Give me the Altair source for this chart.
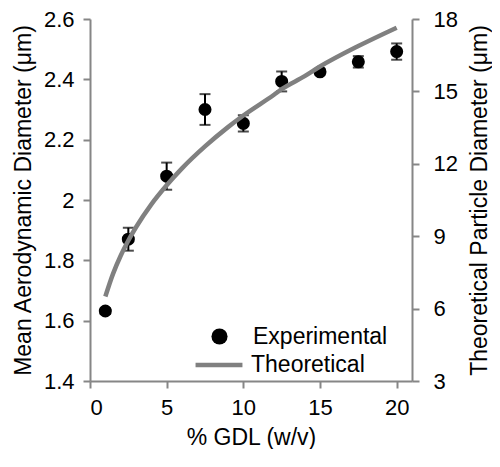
import altair as alt
import pandas as pd

# Experimental data (mean aerodynamic diameter, um) with error bars
gdl = [1, 2.5, 5, 7.5, 10, 12.5, 15, 17.5, 20]
mad = [1.632, 1.870, 2.079, 2.300, 2.254, 2.393, 2.425, 2.458, 2.492]
err = [0.010, 0.038, 0.045, 0.051, 0.027, 0.033, 0.010, 0.019, 0.027]

# Theoretical curve (particle diameter, um) read at sample points
theo_x = [1, 1.5, 2, 2.5, 3, 4, 5, 6, 7.5, 9, 10, 12, 12.5, 14, 15, 17.5, 20]
theo_y = [6.50, 7.44, 8.19, 8.82, 9.37, 10.32, 11.11, 11.81, 12.72, 13.52,
          14.00, 14.86, 15.09, 15.63, 16.03, 16.88, 17.64]

left_ticks = [1.4, 1.6, 1.8, 2.0, 2.2, 2.4, 2.6]
right_ticks = [3, 6, 9, 12, 15, 18]
x_ticks = [0, 5, 10, 15, 20]

exp_df = pd.DataFrame({"x": gdl, "y": mad, "err": err})
exp_df["lo"] = exp_df["y"] - exp_df["err"]
exp_df["hi"] = exp_df["y"] + exp_df["err"]
exp_df["series"] = "Experimental"
theo_df = pd.DataFrame({"x": theo_x, "y": theo_y, "series": "Theoretical"})

FONT = "Liberation Sans"
AX = "#868686"
W, H = 322, 362
LEG_FS = 23

xscale = alt.Scale(domain=[0, 21], nice=False, zero=False)
xaxis = alt.Axis(values=x_ticks, title="% GDL (w/v)", grid=False)
lscale = alt.Scale(domain=[1.4, 2.6], nice=False, zero=False)

base = alt.Chart(exp_df)
bars = base.mark_rule(color="black", strokeWidth=2).encode(
    x=alt.X("x:Q", scale=xscale, axis=xaxis),
    y=alt.Y("lo:Q", scale=lscale,
            axis=alt.Axis(values=left_ticks, format="~g", grid=False,
                          title="Mean Aerodynamic Diameter (μm)")),
    y2="hi:Q",
)
cap_lo = base.mark_tick(color="black", thickness=2, size=11, orient="horizontal").encode(
    x=alt.X("x:Q", scale=xscale), y=alt.Y("lo:Q", scale=lscale))
cap_hi = base.mark_tick(color="black", thickness=2, size=11, orient="horizontal").encode(
    x=alt.X("x:Q", scale=xscale), y=alt.Y("hi:Q", scale=lscale))
pts = base.mark_point(filled=True, size=170, opacity=1, shape="circle").encode(
    x=alt.X("x:Q", scale=xscale),
    y=alt.Y("y:Q", scale=lscale),
    color=alt.Color("series:N",
                    scale=alt.Scale(domain=["Experimental"], range=["black"]),
                    legend=alt.Legend(title=None, orient="none", legendX=118, legendY=306,
                                      labelFontSize=LEG_FS, labelFont=FONT, labelColor="black",
                                      symbolSize=260, symbolOpacity=1, labelOffset=22,
                                      symbolStrokeWidth=0)),
)

left = alt.layer(bars, cap_lo, cap_hi, pts)

line = alt.Chart(theo_df).mark_line(strokeWidth=4.5, interpolate="monotone").encode(
    x=alt.X("x:Q", scale=xscale),
    y=alt.Y("y:Q", scale=alt.Scale(domain=[3, 18], nice=False, zero=False),
            axis=alt.Axis(orient="right", values=right_ticks, grid=False,
                          title="Theoretical Particle Diameter (μm)", titleAngle=270,
                          titleBaseline="top", labelPadding=14, titlePadding=11)),
    stroke=alt.Stroke("series:N",
                      scale=alt.Scale(domain=["Theoretical"], range=["#808080"]),
                      legend=alt.Legend(title=None, orient="none", legendX=103, legendY=320,
                                        labelFontSize=LEG_FS, labelFont=FONT, labelColor="black",
                                        symbolSize=2200, symbolStrokeWidth=4.5,
                                        labelOffset=6)),
)

chart = alt.layer(left, line).resolve_scale(y="independent").properties(
    width=W, height=H, padding={"left": 4, "top": 0, "right": 0, "bottom": 0}
).configure_view(stroke=None).configure_axis(
    labelFont=FONT, titleFont=FONT, labelFontSize=22, titleFontSize=23,
    labelColor="black", titleColor="black", titleFontWeight="normal",
    domainColor=AX, tickColor=AX, domainWidth=2, tickWidth=2, tickSize=7,
    labelPadding=9, titlePadding=8,
)

chart.save("out.html", embed_options={"renderer": "svg", "actions": False})
